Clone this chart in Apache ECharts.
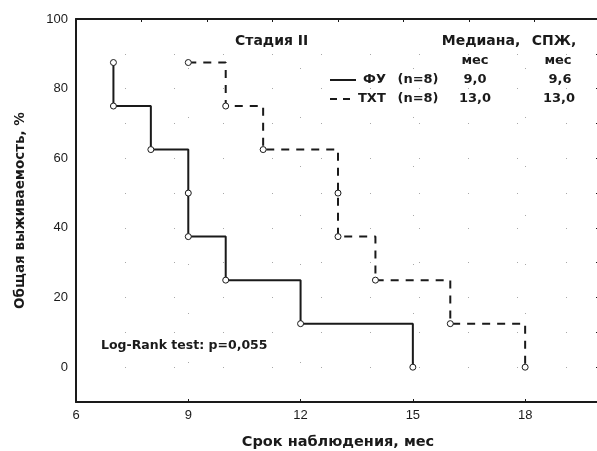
<!DOCTYPE html>
<html><head><meta charset="utf-8">
<script src="https://cdn.jsdelivr.net/npm/echarts@6/dist/echarts.min.js"></script>
<style>html,body{margin:0;padding:0;background:#fff}#c{width:597px;height:451px}</style>
</head><body><div id="c"></div>
<script>
// Kaplan-Meier points (time, survival %) — circles on the curves
var fuTime  = [7, 7, 8, 9, 9, 10, 12, 15];
var fuSurv  = [87.5, 75, 62.5, 50, 37.5, 25, 12.5, 0];
var txtTime = [9, 10, 11, 13, 13, 14, 16, 18];
var txtSurv = [87.5, 75, 62.5, 50, 37.5, 25, 12.5, 0];

var groupNames = ['ФУ', 'ТХТ'];
var groupN = ['(n=8)', '(n=8)'];
var medians = ['9,0', '13,0'];
var spzh = ['9,6', '13,0'];
var titleText = 'Стадия II';
var testText = 'Log-Rank test: p=0,055';
var xName = 'Срок наблюдения, мес';
var yName = 'Общая выживаемость, %';

function pairs(t, s){ return t.map(function(v,i){ return [v, s[i]]; }); }

var FONT = "Arial, 'Liberation Sans', sans-serif";
var BFONT = "'DejaVu Sans', Arial, sans-serif";
var INK = '#1a1a1a';
var chart = echarts.init(document.getElementById('c'), null, {renderer:'canvas'});

function t(x, y, s, align, size){ return {type:'text', x:x, y:y, z:10,
  style:{text:s, textAlign:align||'left', textVerticalAlign:'middle',
    fontFamily:BFONT, fontWeight:'bold', fontSize:size||13, fill:INK}}; }

var graphics = [
  t(235, 41, titleText, 'left', 14),
  t(481, 41, 'Медиана,', 'center', 14),
  t(554, 41, 'СПЖ,', 'center', 14),
  t(475, 61, 'мес', 'center'),
  t(558, 61, 'мес', 'center'),
  {type:'line', shape:{x1:330, y1:80, x2:356, y2:80}, style:{stroke:INK, lineWidth:2}},
  {type:'line', shape:{x1:330, y1:99, x2:356, y2:99}, style:{stroke:INK, lineWidth:2, lineDash:[7,6]}},
  t(363, 80, groupNames[0]),
  t(358, 99, groupNames[1]),
  t(418, 80, groupN[0], 'center'),
  t(418, 99, groupN[1], 'center'),
  t(475, 80, medians[0], 'center'),
  t(475, 99, medians[1], 'center'),
  t(560, 80, spzh[0], 'center'),
  t(559, 99, spzh[1], 'center'),
  t(101, 346, testText, 'left', 12.5)
];

var gridDots = {show:true, lineStyle:{color:'#a8a8a8', width:1, type:[1,48]}};

chart.setOption({
  animation:false,
  backgroundColor:'#fff',
  grid:{left:76, top:19, width:524, height:383, outerBoundsMode:'none', containLabel:false},
  xAxis:[{
    type:'value', min:6, max:20, interval:3,
    axisLine:{show:true, onZero:false, lineStyle:{color:INK, width:2}},
    axisTick:{show:true, inside:true, length:3, lineStyle:{color:INK}},
    axisLabel:{color:INK, fontFamily:FONT, fontSize:13, margin:7, showMaxLabel:false},
    splitLine:gridDots,
    name:xName, nameLocation:'middle', nameGap:33,
    nameTextStyle:{fontFamily:BFONT, fontWeight:'bold', fontSize:14.5, color:INK}
  },{
    type:'value', position:'top', min:0, max:8, interval:1,
    axisLine:{show:true, onZero:false, lineStyle:{color:INK, width:2}},
    axisTick:{show:true, inside:true, length:3, lineStyle:{color:INK}},
    axisLabel:{show:false}, splitLine:{show:false}
  }],
  yAxis:[{
    type:'value', min:-10, max:100, interval:10,
    axisLine:{show:true, onZero:false, lineStyle:{color:INK, width:2}},
    axisTick:{show:false},
    axisLabel:{color:INK, fontFamily:FONT, fontSize:13, margin:8,
      formatter:function(v){ return (v>=0 && v%20===0) ? String(v) : ''; }},
    splitLine:gridDots,
    name:yName, nameLocation:'middle', nameGap:49,
    nameTextStyle:{fontFamily:BFONT, fontWeight:'bold', fontSize:13.5, color:INK}
  },{
    type:'value', position:'right', min:-10, max:100, interval:10,
    axisLine:{show:true, onZero:false, lineStyle:{color:INK, width:2}},
    axisTick:{show:true, inside:true, length:4, lineStyle:{color:INK}},
    axisLabel:{show:false}, splitLine:{show:false}
  }],
  series:[{
    type:'line', step:'end', data:pairs(fuTime, fuSurv),
    symbol:'circle', symbolSize:6, showAllSymbol:true,
    itemStyle:{color:'#fff', borderColor:INK, borderWidth:1},
    lineStyle:{color:INK, width:2}, z:3
  },{
    type:'line', step:'end', data:pairs(txtTime, txtSurv),
    symbol:'circle', symbolSize:6, showAllSymbol:true,
    itemStyle:{color:'#fff', borderColor:INK, borderWidth:1},
    lineStyle:{color:INK, width:2, type:[8,7]}, z:3
  }],
  graphic:graphics
});
</script></body></html>
